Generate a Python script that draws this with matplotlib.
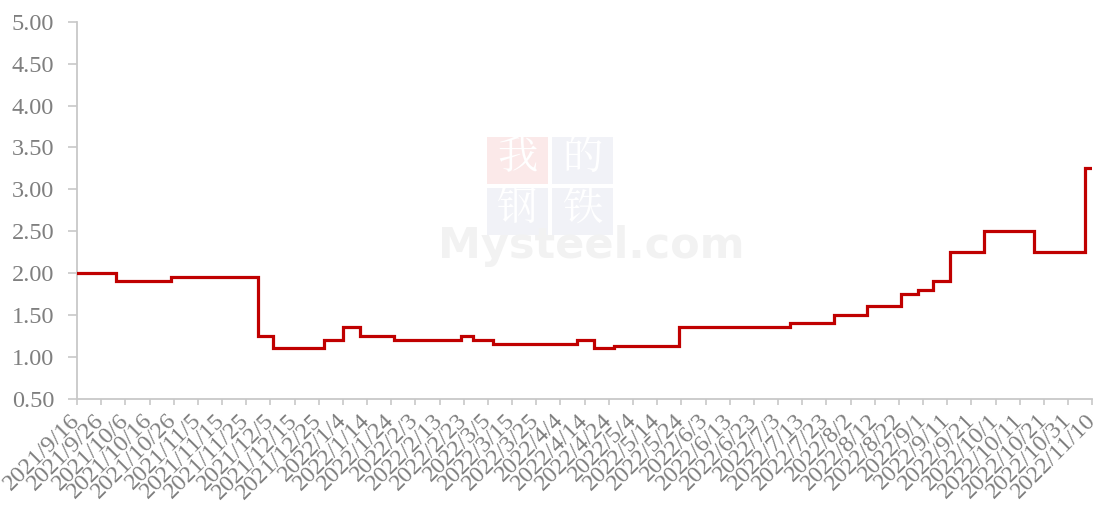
import numpy as np
import pandas as pd
import matplotlib
matplotlib.use("Agg")
import matplotlib.pyplot as plt
from matplotlib.patches import Rectangle

# 价格变动日期及对应数值（阶梯）
change_dates = ["2021-09-16", "2021-10-02", "2021-10-25", "2021-11-30", "2021-12-06",
                "2021-12-27", "2022-01-04", "2022-01-11", "2022-01-25", "2022-02-22",
                "2022-02-27", "2022-03-07", "2022-04-11", "2022-04-18", "2022-04-26",
                "2022-05-23", "2022-07-08", "2022-07-26", "2022-08-09", "2022-08-23",
                "2022-08-30", "2022-09-05", "2022-09-12", "2022-09-26", "2022-10-17",
                "2022-11-07", "2022-11-10"]
change_values = [2.00, 1.90, 1.95, 1.25, 1.10,
                 1.20, 1.35, 1.25, 1.20, 1.25,
                 1.20, 1.15, 1.20, 1.10, 1.13,
                 1.35, 1.40, 1.50, 1.60, 1.75,
                 1.80, 1.90, 2.25, 2.50, 2.25,
                 3.25, 3.25]

start_date = "2021-09-16"
end_date = "2022-11-10"
y_ticks = [0.5, 1.0, 1.5, 2.0, 2.5, 3.0, 3.5, 4.0, 4.5, 5.0]

dates = pd.to_datetime(change_dates)
tick_dates = pd.date_range(start_date, end_date, freq="10D")

plt.rcParams['font.family'] = ['Liberation Serif', 'DejaVu Serif']
gray = '#7f7f7f'
axis_gray = '#c8c8c8'

fig = plt.figure(figsize=(11, 5.07), dpi=100)

# 水印
wm_red = '#fbe9e9'
wm_blue = '#f1f2f7'
boxes = [(487, 137, wm_red, '我'), (552, 137, wm_blue, '的'),
         (487, 188, wm_blue, '钢'), (552, 188, wm_blue, '铁')]
for bx, by, col, ch in boxes:
    fig.patches.append(Rectangle((bx / 1100, 1 - (by + 47) / 507), 61 / 1100, 47 / 507,
                                 transform=fig.transFigure, facecolor=col,
                                 edgecolor='none', zorder=0))
    fig.text((bx + 30.5) / 1100, 1 - (by + 21) / 507, ch, color='white',
             fontsize=29, ha='center', va='center',
             family=['Noto Serif CJK SC', 'Noto Sans CJK SC'], zorder=1)
fig.text(591 / 1100, 1 - 246 / 507, 'Mysteel.com', color='#f2f2f2', fontsize=31,
         fontweight='bold', ha='center', va='center', family=['DejaVu Sans'], zorder=1)

ax = fig.add_axes([0.070, 0.214, 0.923, 0.743])
ax.patch.set_alpha(0)
ax.plot(dates, change_values, drawstyle='steps-post', color='#c00000',
        linewidth=2.3, solid_joinstyle='miter', zorder=3)

ax.set_xlim(pd.Timestamp(start_date), pd.Timestamp(end_date))
ax.set_ylim(0.5, 5.0)
ax.set_yticks(y_ticks)
ax.set_yticklabels([f"{v:.2f}" for v in y_ticks])
ax.set_xticks(tick_dates)
ax.set_xticklabels([f"{d.year}/{d.month}/{d.day}" for d in tick_dates],
                   rotation=45, ha='right', va='center', rotation_mode='anchor')

for s in ['top', 'right']:
    ax.spines[s].set_visible(False)
for s in ['left', 'bottom']:
    ax.spines[s].set_color(axis_gray)
    ax.spines[s].set_linewidth(1.3)
ax.tick_params(axis='both', colors=axis_gray, labelcolor=gray, labelsize=17.5,
               width=1.2, direction='out')
ax.tick_params(axis='y', length=6.5, pad=10)
ax.tick_params(axis='x', length=4.5, pad=9)

fig.savefig('out.png', dpi=100)
